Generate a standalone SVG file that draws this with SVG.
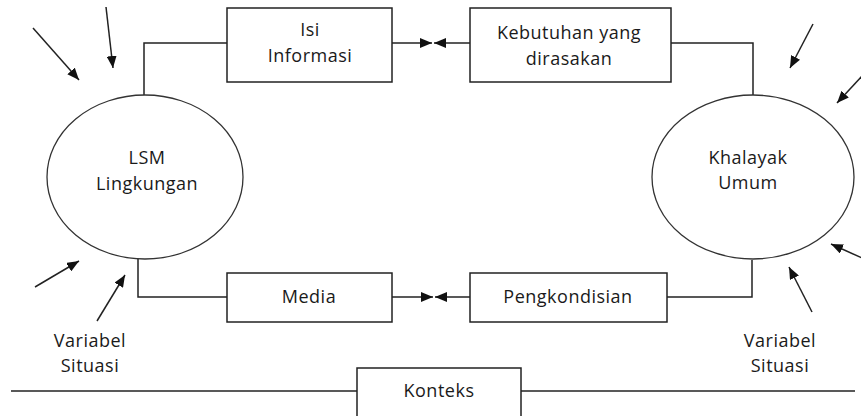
<svg xmlns="http://www.w3.org/2000/svg" width="861" height="416" viewBox="0 0 861 416">
<style>
.box{fill:#fff;stroke:#222;stroke-width:1.5}
.ell{fill:#fff;stroke:#333;stroke-width:1.3}
.ln{fill:none;stroke:#222;stroke-width:1.5}
.t{font-family:"Open Sans","Liberation Sans",sans-serif;font-size:18px;letter-spacing:0.5px;fill:#1a1a1a;text-anchor:middle}
</style>
<defs>
<marker id="ah" viewBox="0 0 12 10" refX="12" refY="5" markerWidth="12" markerHeight="10" markerUnits="userSpaceOnUse" orient="auto">
<path d="M0,0 L12,5 L0,10 Z" fill="#111"/>
</marker>
</defs>
<rect width="861" height="416" fill="#fff"/>
<g id="connectors">
<polyline class="ln" points="144,95 144,43 227,43"/>
<line class="ln" x1="392" y1="43" x2="432" y2="43" marker-end="url(#ah)"/>
<line class="ln" x1="470" y1="43" x2="434" y2="43" marker-end="url(#ah)"/>
<polyline class="ln" points="671,43 753,43 753,95"/>
<polyline class="ln" points="138,259 138,297 227,297"/>
<line class="ln" x1="392" y1="297" x2="433" y2="297" marker-end="url(#ah)"/>
<line class="ln" x1="470" y1="297" x2="435" y2="297" marker-end="url(#ah)"/>
<polyline class="ln" points="667,297 752,297 752,260"/>
<line class="ln" x1="11" y1="391" x2="357" y2="391"/>
<line class="ln" x1="521" y1="391" x2="855" y2="391"/>
<line class="ln" x1="33" y1="28" x2="79" y2="80" marker-end="url(#ah)"/>
<line class="ln" x1="106" y1="7" x2="113" y2="68" marker-end="url(#ah)"/>
<line class="ln" x1="35" y1="287" x2="79" y2="261" marker-end="url(#ah)"/>
<line class="ln" x1="97" y1="321" x2="125" y2="275" marker-end="url(#ah)"/>
<line class="ln" x1="813" y1="24" x2="790" y2="68" marker-end="url(#ah)"/>
<line class="ln" x1="862" y1="76" x2="837" y2="103" marker-end="url(#ah)"/>
<line class="ln" x1="862" y1="258" x2="831" y2="244" marker-end="url(#ah)"/>
<line class="ln" x1="812" y1="312" x2="789" y2="267" marker-end="url(#ah)"/>
</g>
<g id="lsm">
<ellipse class="ell" cx="145" cy="177" rx="98" ry="82"/>
<text class="t" x="147" y="164">LSM</text>
<text class="t" x="147" y="190">Lingkungan</text>
</g>
<g id="khalayak">
<ellipse class="ell" cx="753" cy="177" rx="101" ry="82"/>
<text class="t" x="748" y="164">Khalayak</text>
<text class="t" x="748" y="189">Umum</text>
</g>
<g id="isi">
<rect class="box" x="227" y="8" width="165" height="74"/>
<text class="t" x="310" y="36">Isi</text>
<text class="t" x="310" y="62">Informasi</text>
</g>
<g id="kebutuhan">
<rect class="box" x="470" y="8" width="201" height="74"/>
<text class="t" x="569" y="39">Kebutuhan yang</text>
<text class="t" x="569" y="65">dirasakan</text>
</g>
<g id="media">
<rect class="box" x="227" y="273" width="165" height="49"/>
<text class="t" x="309" y="303">Media</text>
</g>
<g id="pengkondisian">
<rect class="box" x="470" y="273" width="197" height="49"/>
<text class="t" x="568" y="303">Pengkondisian</text>
</g>
<g id="konteks">
<rect class="box" x="357" y="368" width="164" height="60"/>
<text class="t" x="439" y="397">Konteks</text>
</g>
<g id="var-left">
<text class="t" x="90" y="347">Variabel</text>
<text class="t" x="90" y="372">Situasi</text>
</g>
<g id="var-right">
<text class="t" x="780" y="347">Variabel</text>
<text class="t" x="780" y="372">Situasi</text>
</g>
</svg>
